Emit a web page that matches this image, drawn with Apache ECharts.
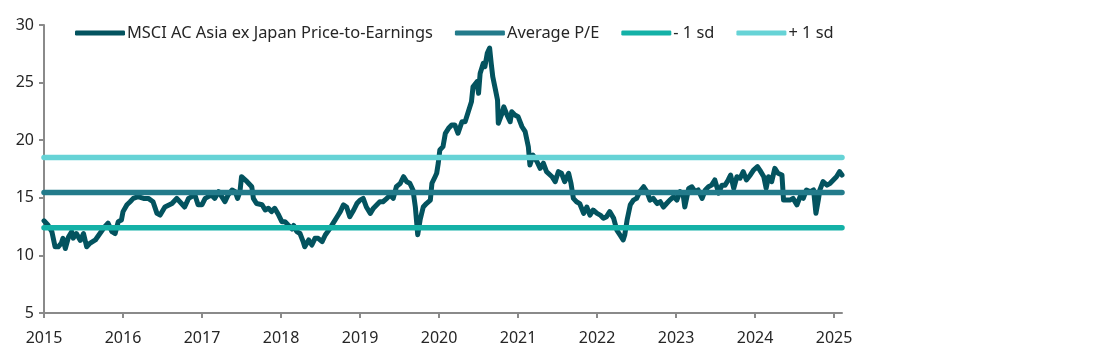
<!DOCTYPE html>
<html>
<head>
<meta charset="utf-8">
<script src="https://cdn.jsdelivr.net/npm/echarts@6/dist/echarts.min.js"></script>
<style>
html,body{margin:0;padding:0;background:#fff;}
#chart{width:1102px;height:364px;}
</style>
</head>
<body>
<div id="chart"></div>
<script>
// Decimal years (x) and MSCI AC Asia ex Japan forward P/E (y)
const years = [
2015.00,2015.05,2015.10,2015.14,2015.18,2015.22,2015.24,2015.27,2015.31,2015.35,2015.37,2015.41,2015.46,2015.50,2015.54,2015.58,2015.65,2015.71,2015.77,2015.81,2015.86,2015.90,2015.94,2015.98,
2016.00,2016.05,2016.09,2016.13,2016.19,2016.26,2016.32,2016.38,2016.43,2016.47,2016.53,2016.62,2016.68,2016.74,2016.78,2016.83,2016.87,2016.91,2016.95,
2017.00,2017.04,2017.08,2017.12,2017.16,2017.21,2017.25,2017.29,2017.33,2017.38,2017.42,2017.45,2017.48,2017.50,2017.57,2017.63,2017.65,2017.69,2017.76,2017.80,2017.84,2017.88,2017.92,2017.97,
2018.01,2018.05,2018.09,2018.14,2018.16,2018.20,2018.24,2018.28,2018.30,2018.35,2018.39,2018.43,2018.47,2018.52,2018.56,2018.62,2018.66,2018.71,2018.75,2018.79,2018.83,2018.87,2018.92,2018.96,
2019.00,2019.04,2019.08,2019.13,2019.17,2019.21,2019.25,2019.29,2019.34,2019.38,2019.42,2019.46,2019.51,2019.55,2019.59,2019.63,2019.67,2019.70,2019.73,2019.76,2019.80,2019.84,2019.89,2019.91,2019.95,2019.97,2019.99,
2020.01,2020.05,2020.08,2020.12,2020.16,2020.20,2020.24,2020.29,2020.33,2020.37,2020.41,2020.43,2020.48,2020.50,2020.52,2020.56,2020.58,2020.61,2020.64,2020.66,2020.68,2020.71,2020.74,2020.75,2020.79,2020.82,2020.86,2020.90,2020.92,2020.96,
2021.00,2021.05,2021.09,2021.13,2021.15,2021.19,2021.24,2021.28,2021.32,2021.36,2021.43,2021.47,2021.51,2021.55,2021.59,2021.64,2021.67,2021.70,2021.74,2021.78,2021.83,2021.87,2021.91,2021.95,
2022.00,2022.04,2022.08,2022.12,2022.16,2022.21,2022.25,2022.29,2022.33,2022.35,2022.38,2022.42,2022.46,2022.50,2022.54,2022.59,2022.63,2022.67,2022.71,2022.76,2022.80,2022.84,2022.88,2022.92,2022.97,
2023.01,2023.05,2023.09,2023.11,2023.16,2023.20,2023.24,2023.28,2023.33,2023.37,2023.41,2023.45,2023.49,2023.54,2023.58,2023.62,2023.66,2023.69,2023.73,2023.77,2023.81,2023.85,2023.89,2023.94,2023.98,
2024.03,2024.06,2024.11,2024.14,2024.17,2024.21,2024.25,2024.29,2024.34,2024.36,2024.40,2024.44,2024.48,2024.53,2024.57,2024.61,2024.65,2024.70,2024.74,2024.77,2024.80,2024.82,2024.86,2024.91,2024.95,2024.99,
2025.03,2025.07,2025.10
];
const pe = [
13.0,12.64,12.06,10.75,10.75,11.07,11.48,10.6,11.6,12.06,11.5,11.9,11.3,11.9,10.75,11.05,11.34,11.92,12.5,12.8,12.06,11.9,12.93,13.07,
13.8,14.4,14.66,14.95,15.1,14.95,14.95,14.66,13.65,13.5,14.2,14.5,14.95,14.5,14.2,14.95,15.1,15.24,14.4,
14.4,14.95,15.1,15.24,14.95,15.53,15.1,14.66,15.24,15.68,15.53,14.95,15.53,16.83,16.4,15.96,14.95,14.5,14.4,13.94,14.09,13.8,14.09,13.5,
12.93,12.93,12.64,12.3,12.6,12.06,11.9,11.2,10.75,11.34,10.9,11.48,11.48,11.2,11.77,12.35,12.8,13.36,13.8,14.38,14.2,13.36,13.94,14.5,
14.8,14.95,14.2,13.65,14.1,14.38,14.66,14.66,14.95,15.24,14.95,15.96,16.26,16.83,16.4,16.26,15.68,14.2,11.8,13.07,14.2,14.5,14.8,16.26,16.83,17.13,18.0,
19.15,19.44,20.6,21.03,21.32,21.32,20.6,21.6,21.6,22.47,23.34,24.64,25.08,24.07,25.8,26.68,26.38,27.54,28.0,26.68,25.5,24.5,23.5,21.47,22.19,22.9,22.19,21.6,22.47,22.19,
22.04,21.17,20.74,19.44,17.85,18.7,18.13,17.56,18.0,17.27,16.83,16.4,17.27,17.13,16.4,17.13,16.26,14.95,14.66,14.5,13.65,14.2,13.5,13.94,
13.65,13.5,13.22,13.36,13.8,13.22,12.2,11.77,11.34,11.77,13.07,14.38,14.8,14.95,15.53,15.96,15.53,14.8,14.95,14.5,14.66,14.2,14.5,14.8,15.1,
14.8,15.53,15.24,14.2,15.82,15.96,15.53,15.68,14.95,15.68,15.96,16.1,16.55,15.4,16.1,16.1,16.55,16.98,15.82,16.83,16.7,17.27,16.55,16.98,17.4,
17.7,17.4,16.83,15.82,16.83,16.4,17.56,17.13,16.98,14.8,14.8,14.8,14.95,14.38,15.1,14.95,15.68,15.53,15.68,13.65,14.8,15.68,16.4,16.1,16.26,16.55,
16.83,17.27,16.98
];
const avgPE = 15.45;
const minusSD = 12.4;
const plusSD = 18.5;
const xTicks = [2015,2016,2017,2018,2019,2020,2021,2022,2023,2024,2025];
const yTicks = [5,10,15,20,25,30];
const names = ['MSCI AC Asia ex Japan Price-to-Earnings','Average P/E','- 1 sd','+ 1 sd'];
const colors = ['#03535f','#237b8b','#14b1a7','#66d3d6'];

const xStart = years[0], xEnd = years[years.length-1];
const mainData = years.map((y,i)=>[y,pe[i]]);
function flat(v){ return [[xStart,v],[xEnd,v]]; }

const font = '"Noto Sans", "Open Sans", sans-serif';
const chart = echarts.init(document.getElementById('chart'), null, {renderer:'canvas'});
chart.setOption({
  animation:false,
  backgroundColor:'#ffffff',
  grid:{left:44,right:260,top:25,bottom:51,containLabel:false},
  legend:{
    left:75, top:25, padding:0,
    icon:'roundRect',
    itemWidth:50, itemHeight:5,
    itemGap:22,
    data:names,
    textStyle:{fontFamily:font,fontSize:16.4,color:'#262626',padding:[0,0,0,-3]}
  },
  xAxis:{
    type:'value', min:2015, max:xEnd,
    axisLine:{show:true,lineStyle:{color:'#8a8a8a',width:2}},
    axisTick:{show:true,length:5,lineStyle:{color:'#8a8a8a',width:2},customValues:xTicks},
    axisLabel:{customValues:xTicks,margin:17,fontFamily:font,fontSize:16,color:'#262626',formatter:v=>String(Math.round(v))},
    splitLine:{show:false}
  },
  yAxis:{
    type:'value', min:5, max:30, interval:5,
    axisLine:{show:true,lineStyle:{color:'#8a8a8a',width:2}},
    axisTick:{show:true,length:5,lineStyle:{color:'#8a8a8a',width:2}},
    axisLabel:{margin:10,fontFamily:font,fontSize:16,color:'#262626'},
    splitLine:{show:false}
  },
  series:[
    {name:names[0],type:'line',data:mainData,showSymbol:false,color:colors[0],
     lineStyle:{width:5,color:colors[0],join:'round',cap:'round'},z:2},
    {name:names[1],type:'line',data:flat(avgPE),showSymbol:false,color:colors[1],
     lineStyle:{width:5.5,color:colors[1],cap:'round'},z:3},
    {name:names[2],type:'line',data:flat(minusSD),showSymbol:false,color:colors[2],
     lineStyle:{width:5.5,color:colors[2],cap:'round'},z:3},
    {name:names[3],type:'line',data:flat(plusSD),showSymbol:false,color:colors[3],
     lineStyle:{width:5.5,color:colors[3],cap:'round'},z:3}
  ]
});
</script>
</body>
</html>
